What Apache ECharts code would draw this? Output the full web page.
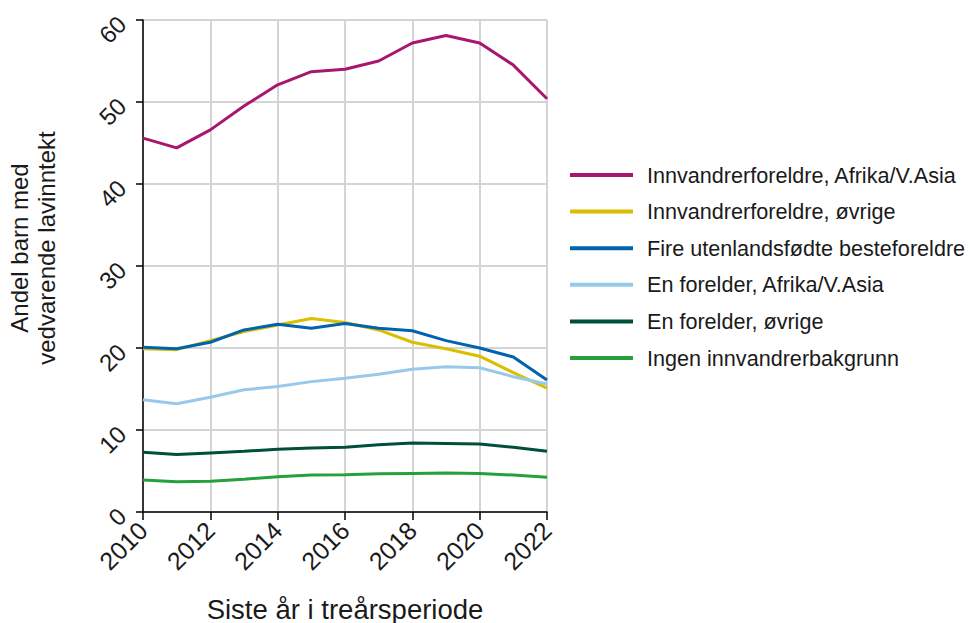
<!DOCTYPE html>
<html>
<head>
<meta charset="utf-8">
<script src="https://cdn.jsdelivr.net/npm/echarts@6/dist/echarts.min.js"></script>
<style>
  html, body { margin: 0; padding: 0; background: #fff; }
  #chart { width: 970px; height: 623px; }
</style>
</head>
<body>
<div id="chart"></div>
<script>
// år (siste år i treårsperiode)
const years = [2010, 2011, 2012, 2013, 2014, 2015, 2016, 2017, 2018, 2019, 2020, 2021, 2022]

// andel barn med vedvarende lavinntekt, prosent
const afrikaAsia = [45.6, 44.4, 46.6, 49.5, 52.1, 53.7, 54.0, 55.0, 57.2, 58.1, 57.2, 54.5, 50.4]
const ovrige = [19.9, 19.8, 20.9, 22.0, 22.8, 23.6, 23.1, 22.2, 20.7, 19.9, 19.0, 17.0, 15.1]
const fireBesteforeldre = [20.1, 19.9, 20.7, 22.2, 22.9, 22.4, 23.0, 22.4, 22.1, 20.9, 20.0, 18.9, 16.1]
const enForelderAfrika = [13.7, 13.2, 14.0, 14.9, 15.3, 15.9, 16.3, 16.8, 17.4, 17.7, 17.6, 16.5, 15.6]
const enForelderOvrige = [7.3, 7.0, 7.2, 7.4, 7.65, 7.8, 7.9, 8.2, 8.4, 8.35, 8.3, 7.9, 7.4]
const ingenBakgrunn = [3.9, 3.7, 3.75, 4.0, 4.3, 4.5, 4.55, 4.65, 4.7, 4.75, 4.7, 4.5, 4.25]

const seriesDefs = [
  { name: 'Innvandrerforeldre, Afrika/V.Asia', values: afrikaAsia, color: '#a8176f' },
  { name: 'Innvandrerforeldre, øvrige', values: ovrige, color: '#dabe00' },
  { name: 'Fire utenlandsfødte besteforeldre', values: fireBesteforeldre, color: '#0063ae' },
  { name: 'En forelder, Afrika/V.Asia', values: enForelderAfrika, color: '#98c8ec' },
  { name: 'En forelder, øvrige', values: enForelderOvrige, color: '#004f3c' },
  { name: 'Ingen innvandrerbakgrunn', values: ingenBakgrunn, color: '#26a03c' }
]

const fontFamily = '"Liberation Sans", Arial, sans-serif'
const textColor = '#1a1a1a'

const chart = echarts.init(document.getElementById('chart'), null, { renderer: 'svg' })

const option = {
  animation: false,
  backgroundColor: '#fff',
  textStyle: { fontFamily: fontFamily, color: textColor },
  grid: {
    left: 143,
    right: 423,
    top: 20,
    bottom: 111,
    containLabel: false,
    outerBoundsMode: 'none'
  },
  legend: {
    orient: 'vertical',
    left: 570,
    top: 164,
    padding: 0,
    icon: 'rect',
    itemWidth: 63,
    itemHeight: 4,
    itemGap: 14.6,
    textStyle: {
      fontFamily: fontFamily,
      fontSize: 21.6,
      lineHeight: 22,
      color: textColor,
      padding: [0, 0, 0, 9]
    },
    data: seriesDefs.map(s => s.name)
  },
  xAxis: {
    type: 'value',
    min: 2010,
    max: 2022,
    interval: 2,
    name: 'Siste år i treårsperiode',
    nameLocation: 'middle',
    nameGap: 83,
    nameTextStyle: { fontSize: 27.5, color: textColor, fontFamily: fontFamily },
    axisLine: { show: true, onZero: false, lineStyle: { color: '#000', width: 1.5 } },
    axisTick: { show: true, length: 8, lineStyle: { color: '#000', width: 1.5 } },
    axisLabel: {
      rotate: 45,
      fontSize: 25,
      color: textColor,
      margin: 14,
      align: 'right',
      verticalAlign: 'middle',
      formatter: v => String(v)
    },
    splitLine: { show: true, lineStyle: { color: '#d4d4d4', width: 2 } }
  },
  yAxis: {
    type: 'value',
    min: 0,
    max: 60,
    interval: 10,
    name: 'Andel barn med\nvedvarende lavinntekt',
    nameLocation: 'middle',
    nameGap: 83,
    nameRotate: 90,
    nameTextStyle: {
      fontSize: 24,
      lineHeight: 27,
      color: textColor,
      fontFamily: fontFamily,
      align: 'center',
      padding: [0, 0, 0, 36]
    },
    axisLine: { show: true, lineStyle: { color: '#000', width: 1.5 } },
    axisTick: { show: true, length: 7, lineStyle: { color: '#000', width: 1.5 } },
    axisLabel: {
      rotate: 45,
      fontSize: 24,
      color: textColor,
      margin: 21,
      align: 'right',
      verticalAlign: 'middle'
    },
    splitLine: { show: true, lineStyle: { color: '#d4d4d4', width: 2 } }
  },
  series: seriesDefs.map(s => ({
    name: s.name,
    type: 'line',
    data: years.map((y, i) => [y, s.values[i]]),
    showSymbol: false,
    symbol: 'none',
    color: s.color,
    lineStyle: { color: s.color, width: 3 },
    itemStyle: { color: s.color }
  }))
}

chart.setOption(option)
</script>
</body>
</html>
